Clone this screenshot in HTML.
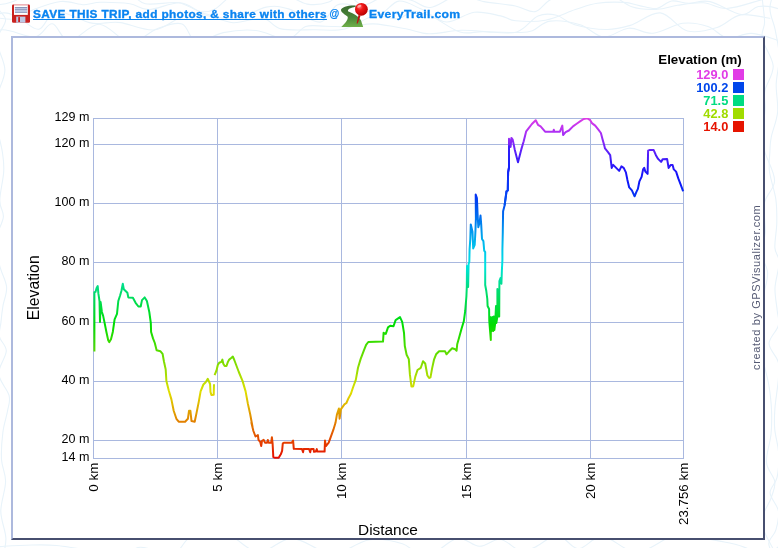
<!DOCTYPE html>
<html><head><meta charset="utf-8"><title>Elevation profile</title>
<style>
html,body{margin:0;padding:0;background:#fff;}
body{width:778px;height:548px;position:relative;overflow:hidden;font-family:"Liberation Sans",sans-serif;}
#bg{position:absolute;left:0;top:0;}
#hdr{position:absolute;left:0;top:0;width:778px;height:34px;will-change:transform;}
#hdr a,#hdr span{position:absolute;top:7px;font-weight:bold;font-size:10px;line-height:13px;color:#0a84f0;white-space:nowrap;display:inline-block;transform-origin:0 0;}
#hdr a{left:33.4px;top:7.5px;-webkit-text-stroke:0.3px #0a84f0;text-decoration:underline;text-underline-offset:0.6px;text-decoration-thickness:1px;text-decoration-skip-ink:none;letter-spacing:0.3px;transform:scaleX(1.184);}
#hdr #at{left:329.5px;top:6.6px;-webkit-text-stroke:0.2px #0a84f0;}
#hdr #et{left:368.7px;top:8px;-webkit-text-stroke:0.3px #0a84f0;font-size:11px !important;letter-spacing:0.3px;transform:scaleX(1.11);}
#box{position:absolute;left:11px;top:36px;width:750px;height:500px;background:#fff;border:2px solid;border-color:#adb9dd #474f6f #474f6f #adb9dd;}
#chart{position:absolute;left:0;top:0;will-change:transform;}
#chart text{font-family:"Liberation Sans",sans-serif;}
</style></head><body>
<svg id="bg" width="778" height="548" viewBox="0 0 778 548"><g fill="none" stroke="#e8f3fa" stroke-width="1.1"><path d="M-20.0 -2.9 C-17.2 -1.7 -8.4 3.5 -3.0 4.3 C2.4 5.1 6.3 4.0 12.5 1.8 C18.6 -0.4 26.2 -6.9 33.8 -8.7 C41.4 -10.6 50.1 -9.2 57.9 -9.2 C65.7 -9.1 74.2 -9.9 80.6 -8.5 C87.0 -7.0 88.7 -0.9 96.4 -0.7 C104.1 -0.5 118.8 -8.0 127.0 -7.3 C135.1 -6.5 136.8 2.1 145.4 3.8 C154.0 5.5 169.2 1.4 178.4 2.7 C187.5 4.0 194.2 10.4 200.3 11.5 C206.4 12.5 209.4 11.9 215.2 8.9 C221.0 5.8 229.0 -4.8 235.0 -6.8 C241.1 -8.8 243.6 -3.3 251.4 -3.2 C259.2 -3.1 272.4 -7.2 281.7 -6.0 C291.0 -4.8 299.5 2.7 307.3 4.1 C315.2 5.4 322.7 4.2 328.8 2.1 C334.9 -0.1 338.5 -9.2 344.0 -8.7 C349.6 -8.2 355.4 4.0 362.2 5.0 C368.9 5.9 376.7 -2.3 384.7 -3.1 C392.8 -3.9 402.8 -1.8 410.4 -0.0 C418.0 1.7 422.4 8.2 430.4 7.5 C438.4 6.7 449.5 -3.6 458.4 -4.6 C467.3 -5.6 474.4 -0.2 483.9 1.6 C493.4 3.3 506.8 4.4 515.4 6.0 C523.9 7.7 529.1 12.7 535.2 11.6 C541.2 10.4 543.9 2.2 551.5 -0.8 C559.1 -3.8 571.8 -5.3 580.7 -6.7 C589.5 -8.0 595.9 -11.4 604.4 -9.1 C613.0 -6.9 623.0 3.8 631.8 6.8 C640.6 9.9 649.6 9.5 657.3 9.3 C664.9 9.0 669.8 6.4 677.5 5.3 C685.2 4.2 695.3 2.2 703.4 2.8 C711.6 3.3 717.2 8.9 726.5 8.5 C735.9 8.1 749.4 3.3 759.4 0.4 C769.5 -2.4 782.2 -7.1 786.7 -8.7"/><path d="M-20.0 15.2 C-14.4 15.9 4.9 20.0 13.9 19.1 C22.8 18.1 25.7 12.4 33.6 9.5 C41.4 6.6 52.5 2.3 60.9 1.5 C69.4 0.7 77.6 4.6 84.2 4.7 C90.8 4.8 92.9 2.4 100.5 2.3 C108.1 2.2 121.8 2.6 129.9 3.8 C137.9 5.1 140.4 9.8 148.8 9.6 C157.2 9.4 171.2 2.2 180.2 2.8 C189.3 3.4 194.1 10.4 203.2 13.1 C212.3 15.8 224.4 20.0 234.9 19.0 C245.4 18.0 257.2 8.8 266.2 7.1 C275.1 5.4 279.5 6.4 288.5 8.9 C297.5 11.4 312.1 22.7 320.2 22.1 C328.3 21.4 331.2 7.5 337.2 4.9 C343.1 2.2 348.8 4.6 355.8 6.1 C362.9 7.6 372.4 14.8 379.5 14.0 C386.7 13.1 391.8 1.9 398.8 1.1 C405.7 0.3 413.2 5.6 421.2 9.1 C429.1 12.6 437.6 21.4 446.5 22.0 C455.3 22.5 465.3 13.4 474.3 12.3 C483.3 11.3 493.7 14.5 500.6 15.9 C507.6 17.3 508.3 20.1 515.7 20.8 C523.2 21.5 535.4 22.1 545.3 20.2 C555.3 18.4 566.6 12.5 575.3 9.6 C583.9 6.8 589.2 4.5 597.3 3.3 C605.4 2.1 616.9 2.0 624.0 2.4 C631.0 2.8 633.9 4.6 639.3 5.6 C644.7 6.6 651.2 9.2 656.5 8.5 C661.9 7.7 666.2 1.9 671.6 1.0 C676.9 0.1 682.2 3.1 688.6 3.2 C695.0 3.3 701.1 -0.3 709.9 1.6 C718.7 3.4 733.3 13.7 741.4 14.5 C749.5 15.3 752.0 7.5 758.3 6.5 C764.7 5.6 773.1 6.8 779.3 9.0 C785.5 11.2 793.0 17.9 795.8 19.7"/><path d="M-20.0 21.3 C-16.1 19.9 -2.9 13.3 3.7 12.9 C10.3 12.4 13.8 15.8 19.7 18.5 C25.6 21.3 32.9 30.4 39.0 29.2 C45.1 28.1 47.9 12.6 56.2 11.5 C64.6 10.4 80.9 20.7 89.3 22.6 C97.6 24.5 101.0 23.0 106.2 22.9 C111.4 22.9 112.7 21.4 120.7 22.6 C128.8 23.8 144.1 31.0 154.3 30.0 C164.6 29.0 174.0 19.3 182.2 16.7 C190.4 14.2 195.1 13.7 203.6 14.7 C212.0 15.7 223.2 22.1 233.0 22.7 C242.8 23.3 254.6 17.2 262.6 18.3 C270.6 19.3 272.4 26.9 281.0 28.9 C289.7 30.8 304.1 29.7 314.7 29.8 C325.4 29.8 335.0 31.3 344.9 29.0 C354.7 26.7 364.8 17.7 373.7 16.0 C382.5 14.3 391.5 19.6 398.0 18.8 C404.5 18.1 406.9 12.0 412.6 11.6 C418.3 11.3 424.3 13.3 432.2 16.7 C440.1 20.1 451.6 29.6 460.0 32.0 C468.5 34.5 473.5 31.6 483.0 31.6 C492.4 31.6 507.6 34.6 516.7 32.0 C525.9 29.4 531.4 18.6 538.0 15.9 C544.7 13.1 550.5 13.8 556.6 15.3 C562.7 16.8 566.3 22.4 574.7 24.7 C583.0 27.1 597.4 29.4 606.7 29.5 C615.9 29.6 621.3 28.1 630.3 25.4 C639.2 22.6 650.7 11.9 660.2 12.9 C669.8 13.8 678.0 28.6 687.5 31.0 C696.9 33.5 708.2 30.2 717.1 27.5 C726.0 24.8 731.8 16.5 740.7 14.9 C749.6 13.4 765.5 17.8 770.4 18.3"/><path d="M-20.0 42.4 C-16.3 40.3 -7.2 30.7 1.9 29.8 C11.1 28.9 26.5 38.0 34.9 36.9 C43.2 35.9 46.5 23.1 52.3 23.8 C58.0 24.5 61.4 40.8 69.3 40.9 C77.1 41.0 89.3 23.9 99.4 24.2 C109.5 24.5 120.3 41.8 129.9 42.6 C139.5 43.3 148.4 31.8 157.1 28.7 C165.8 25.6 175.5 21.6 182.1 23.9 C188.6 26.2 189.5 40.9 196.3 42.4 C203.2 43.8 213.4 34.6 223.3 32.6 C233.3 30.6 245.3 29.4 256.0 30.5 C266.7 31.6 279.2 39.8 287.4 39.2 C295.7 38.5 299.3 28.7 305.7 26.5 C312.0 24.4 317.9 26.3 325.5 26.3 C333.1 26.3 343.2 27.1 351.2 26.7 C359.3 26.3 364.5 23.5 373.6 23.9 C382.7 24.2 396.6 27.1 405.8 28.8 C415.1 30.4 419.8 33.6 429.0 33.8 C438.2 34.1 450.3 30.6 461.1 30.3 C471.8 30.0 483.9 31.7 493.4 32.0 C502.9 32.4 511.6 32.7 518.1 32.5 C524.6 32.3 527.1 32.6 532.4 30.7 C537.8 28.8 542.2 22.1 550.1 21.1 C558.0 20.1 571.2 22.1 580.1 24.8 C589.0 27.4 595.5 36.4 603.6 37.0 C611.7 37.5 620.4 28.8 628.7 28.2 C636.9 27.5 644.0 34.0 653.1 33.2 C662.1 32.4 673.6 24.5 682.7 23.3 C691.9 22.2 700.5 24.0 707.9 26.5 C715.4 28.9 720.2 36.8 727.5 38.0 C734.8 39.1 742.7 32.8 751.6 33.4 C760.5 33.9 776.0 39.8 780.8 41.1"/><path d="M-20.0 548.5 C-16.0 548.1 -4.5 546.9 4.1 546.3 C12.8 545.7 23.2 545.1 32.0 545.0 C40.7 544.8 47.0 544.6 56.6 545.5 C66.2 546.4 78.7 548.7 89.5 550.4 C100.2 552.1 112.5 556.2 121.0 555.7 C129.4 555.2 131.5 547.7 140.2 547.3 C148.9 546.9 164.8 555.1 173.0 553.5 C181.3 551.9 183.2 540.5 189.8 537.7 C196.4 534.9 205.7 536.8 212.6 536.6 C219.6 536.4 223.7 534.0 231.4 536.6 C239.1 539.2 248.9 551.9 258.8 552.2 C268.7 552.5 280.7 538.9 290.8 538.4 C300.8 537.9 311.6 546.9 319.1 549.5 C326.6 552.2 327.6 556.0 336.0 554.4 C344.3 552.8 358.2 541.6 369.3 539.8 C380.4 538.1 392.9 540.9 402.4 543.8 C411.8 546.6 417.0 557.6 426.1 556.8 C435.2 555.9 447.9 540.3 456.8 538.6 C465.6 536.8 472.1 546.2 479.4 546.3 C486.6 546.5 493.3 538.5 500.2 539.3 C507.0 540.1 514.7 549.6 520.5 550.9 C526.3 552.2 528.7 549.8 534.9 547.2 C541.1 544.6 550.5 535.1 557.7 535.4 C565.0 535.7 570.9 548.6 578.4 548.7 C585.8 548.9 593.0 535.8 602.6 536.4 C612.3 537.0 625.1 552.2 636.3 552.3 C647.5 552.5 661.0 540.1 669.7 537.3 C678.5 534.6 680.9 535.3 689.1 535.9 C697.2 536.5 710.9 539.5 718.6 540.9 C726.3 542.4 727.1 542.3 735.2 544.3 C743.4 546.3 758.9 554.0 767.5 553.0 C776.0 552.0 783.4 540.7 786.6 538.3"/><path d="M4.0 -20.0 C2.9 -15.8 -3.0 -1.5 -2.7 5.2 C-2.5 11.9 5.7 14.2 5.6 20.1 C5.6 26.1 -2.9 32.6 -3.0 40.9 C-3.1 49.2 4.9 60.6 4.9 69.9 C4.9 79.3 -1.5 87.7 -2.8 96.8 C-4.2 105.9 -3.9 115.2 -3.1 124.5 C-2.2 133.7 1.2 144.4 2.4 152.3 C3.5 160.1 4.2 163.7 3.7 171.7 C3.3 179.7 -0.2 193.0 -0.2 200.5 C-0.3 208.0 3.7 210.9 3.4 216.6 C3.0 222.2 -1.4 228.7 -2.5 234.4 C-3.6 240.1 -3.8 245.4 -3.3 251.0 C-2.8 256.6 -1.3 262.2 0.4 268.2 C2.0 274.2 6.2 280.8 6.6 287.1 C7.1 293.4 4.0 299.8 3.0 305.7 C2.0 311.7 1.4 317.4 0.9 322.6 C0.3 327.8 -1.4 332.1 -0.5 336.9 C0.4 341.6 6.4 344.9 6.3 351.1 C6.1 357.3 -1.8 366.5 -1.3 373.9 C-0.9 381.3 7.6 389.3 9.1 395.5 C10.6 401.8 8.5 405.1 7.5 411.2 C6.4 417.3 3.9 424.1 2.9 432.2 C1.9 440.2 1.1 451.3 1.5 459.5 C2.0 467.8 5.7 473.0 5.6 481.6 C5.5 490.3 0.8 501.8 0.8 511.3 C0.8 520.8 5.7 530.1 5.9 538.6 C6.0 547.2 2.4 558.8 1.7 562.8"/><path d="M761.8 -20.0 C761.8 -17.3 761.5 -10.9 762.0 -3.9 C762.5 3.1 764.5 14.9 764.6 21.9 C764.6 29.0 760.7 31.2 762.2 38.5 C763.6 45.9 772.7 57.3 773.2 66.0 C773.6 74.7 766.3 83.6 764.9 90.7 C763.6 97.8 765.4 102.1 765.1 108.6 C764.8 115.1 763.3 122.9 763.2 130.0 C763.1 137.0 762.8 142.7 764.7 151.1 C766.6 159.5 774.7 171.8 774.6 180.5 C774.6 189.2 766.0 194.5 764.4 203.2 C762.9 211.9 765.9 224.5 765.3 232.7 C764.8 240.9 760.6 245.8 761.0 252.4 C761.4 259.0 767.2 265.5 767.6 272.5 C768.1 279.5 764.9 287.2 763.8 294.5 C762.7 301.9 761.3 309.9 761.1 316.6 C760.8 323.3 762.2 328.4 762.3 334.8 C762.3 341.3 761.1 349.4 761.6 355.2 C762.1 361.0 764.0 364.2 765.3 369.6 C766.5 374.9 768.2 380.6 769.2 387.3 C770.2 394.0 771.2 402.0 771.5 409.8 C771.8 417.6 771.9 425.5 771.0 434.3 C770.2 443.1 765.8 454.5 766.5 462.4 C767.1 470.3 774.0 475.7 774.8 481.6 C775.6 487.5 773.3 491.2 771.1 498.0 C768.9 504.8 761.2 513.7 761.6 522.3 C762.0 530.9 771.5 545.1 773.5 549.6"/><path d="M778.3 -20.0 C776.9 -15.5 770.5 -1.2 770.0 7.0 C769.4 15.2 773.5 21.1 775.1 29.4 C776.6 37.7 779.1 47.6 779.3 56.7 C779.5 65.8 776.5 74.7 776.2 84.0 C775.9 93.2 778.4 103.3 777.6 112.2 C776.7 121.1 772.5 130.7 771.2 137.3 C769.9 143.9 770.2 146.1 769.9 151.8 C769.6 157.5 768.5 163.7 769.5 171.6 C770.5 179.5 774.6 190.4 775.8 199.0 C777.0 207.5 776.9 214.9 776.8 223.0 C776.6 231.2 774.5 241.4 774.9 247.9 C775.3 254.4 779.1 255.3 779.2 262.0 C779.2 268.6 775.4 279.8 775.0 287.9 C774.7 296.0 776.7 304.2 777.2 310.5 C777.8 316.8 779.7 320.0 778.3 325.6 C777.0 331.1 769.1 337.5 769.0 343.6 C769.0 349.6 776.7 355.9 778.2 361.8 C779.8 367.8 778.9 371.3 778.4 379.1 C777.8 386.9 775.5 400.4 774.9 408.7 C774.3 417.0 774.1 421.3 774.7 428.9 C775.3 436.4 778.4 445.7 778.7 453.8 C779.1 461.9 778.4 471.2 777.0 477.7 C775.6 484.2 769.8 487.4 770.1 492.9 C770.3 498.5 777.4 504.8 778.4 511.0 C779.4 517.1 777.5 524.3 775.9 529.8 C774.4 535.4 768.6 538.6 768.8 544.0 C769.1 549.5 776.0 559.3 777.4 562.3"/></g></svg>
<div id="box"></div>
<div id="hdr">
<svg style="position:absolute;left:12px;top:4px" width="18" height="19" viewBox="0 0 18 19">
<rect x="0" y="0.6" width="18.1" height="18.1" rx="1.3" fill="#c9211e"/>
<rect x="2" y="0.3" width="14" height="1.3" fill="#f3c3cc"/>
<rect x="2" y="1.4" width="13.8" height="9.5" fill="#fff"/>
<rect x="2.9" y="3" width="12.3" height="5.8" fill="#bcc6e2"/>
<rect x="2.9" y="3" width="12.3" height="0.9" fill="#8792b4"/>
<rect x="2.9" y="5.1" width="12.3" height="0.8" fill="#8e99ba"/>
<rect x="2.9" y="8" width="12.3" height="0.8" fill="#8e99ba"/>
<rect x="4.2" y="12.6" width="9.2" height="6.1" fill="#bec8e4"/>
<rect x="6.2" y="13.1" width="1.8" height="4.9" fill="#c9211e"/>
</svg>
<a>SAVE THIS TRIP, add photos, &amp; share with others</a>
<span id="at">@</span>
<svg style="position:absolute;left:339px;top:2px" width="32" height="27" viewBox="0 0 32 27">
<defs><linearGradient id="gg" x1="0" y1="0" x2="0" y2="1"><stop offset="0" stop-color="#3a6a30"/><stop offset="0.55" stop-color="#4a8638"/><stop offset="1" stop-color="#6fb04a"/></linearGradient>
<radialGradient id="rg" cx="0.38" cy="0.32" r="0.7"><stop offset="0" stop-color="#ff7070"/><stop offset="0.35" stop-color="#f01818"/><stop offset="1" stop-color="#b80000"/></radialGradient></defs>
<path d="M16.5 3.6 C9 3.2 2.5 5.5 2 7.8 C1.8 10.5 6 12.5 8.5 14.5 C9.5 16 8 18.5 6.5 20.5 L2.3 25 L24.2 25 L22 18.5 C20 14.5 14.5 11.5 10 9.8 C8 8.8 9 7 12 6 C14 5.2 16 4.8 17 4.4 Z" fill="url(#gg)"/>
<path d="M19.5 13 L17.6 21.5 L18.6 21.5 L21.6 13.5 Z" fill="#c01010"/>
<circle cx="22.4" cy="7.3" r="6.4" fill="url(#rg)"/>
<ellipse cx="20.3" cy="4.2" rx="2.2" ry="1.2" fill="#ffc0c0" opacity="0.8" transform="rotate(-25 20.3 4.2)"/>
</svg>
<span id="et">EveryTrail.com</span>
</div>
<svg id="chart" width="778" height="548" viewBox="0 0 778 548">
<defs><linearGradient id="eg" gradientUnits="userSpaceOnUse" x1="0" y1="117.59" x2="0" y2="458.27">
<stop offset="0.0000" stop-color="#df3be5"/><stop offset="0.0217" stop-color="#c836ed"/><stop offset="0.0435" stop-color="#ac30f4"/><stop offset="0.0652" stop-color="#8e29f7"/><stop offset="0.0870" stop-color="#6e23f9"/><stop offset="0.1087" stop-color="#501ef9"/><stop offset="0.1304" stop-color="#391bf9"/><stop offset="0.1522" stop-color="#2417f9"/><stop offset="0.1739" stop-color="#1212f9"/><stop offset="0.1957" stop-color="#0d1af9"/><stop offset="0.2174" stop-color="#082bf6"/><stop offset="0.2391" stop-color="#023df1"/><stop offset="0.2609" stop-color="#0051ef"/><stop offset="0.2826" stop-color="#0066ef"/><stop offset="0.3043" stop-color="#007bef"/><stop offset="0.3261" stop-color="#0090ef"/><stop offset="0.3478" stop-color="#00a5ee"/><stop offset="0.3696" stop-color="#00b9ed"/><stop offset="0.3913" stop-color="#00c8ea"/><stop offset="0.4130" stop-color="#00d6e7"/><stop offset="0.4348" stop-color="#00e4e0"/><stop offset="0.4565" stop-color="#00e1c1"/><stop offset="0.4783" stop-color="#00df9f"/><stop offset="0.5000" stop-color="#00dd7d"/><stop offset="0.5217" stop-color="#00dd64"/><stop offset="0.5435" stop-color="#00dd4b"/><stop offset="0.5652" stop-color="#00dd32"/><stop offset="0.5870" stop-color="#00dd19"/><stop offset="0.6087" stop-color="#00dd00"/><stop offset="0.6304" stop-color="#19dd00"/><stop offset="0.6522" stop-color="#32dd00"/><stop offset="0.6739" stop-color="#4bdd00"/><stop offset="0.6957" stop-color="#64dd00"/><stop offset="0.7174" stop-color="#7ddd00"/><stop offset="0.7391" stop-color="#96dd00"/><stop offset="0.7609" stop-color="#afde00"/><stop offset="0.7826" stop-color="#c7de00"/><stop offset="0.8043" stop-color="#dfdf00"/><stop offset="0.8261" stop-color="#e0c800"/><stop offset="0.8478" stop-color="#e0b100"/><stop offset="0.8696" stop-color="#e19a00"/><stop offset="0.8913" stop-color="#e28200"/><stop offset="0.9130" stop-color="#e26b00"/><stop offset="0.9348" stop-color="#e35300"/><stop offset="0.9565" stop-color="#e43b00"/><stop offset="0.9783" stop-color="#e42300"/><stop offset="1.0000" stop-color="#e50b00"/>
</linearGradient><clipPath id="cp"><rect x="93" y="118" width="591.5" height="341.5"/></clipPath><linearGradient id="cg" gradientUnits="userSpaceOnUse" x1="0" y1="145" x2="0" y2="206"><stop offset="0" stop-color="#3a1cfa"/><stop offset="0.35" stop-color="#1420fa"/><stop offset="1" stop-color="#0052f0"/></linearGradient></defs>
<g stroke="#a9b8df" stroke-width="1" shape-rendering="crispEdges">
<line x1="93.0" y1="118.5" x2="684.0" y2="118.5"/><line x1="93.0" y1="144.5" x2="684.0" y2="144.5"/><line x1="93.0" y1="203.5" x2="684.0" y2="203.5"/><line x1="93.0" y1="262.5" x2="684.0" y2="262.5"/><line x1="93.0" y1="322.5" x2="684.0" y2="322.5"/><line x1="93.0" y1="381.5" x2="684.0" y2="381.5"/><line x1="93.0" y1="440.5" x2="684.0" y2="440.5"/><line x1="93.0" y1="458.5" x2="684.0" y2="458.5"/><line x1="93.5" y1="118.0" x2="93.5" y2="459.0"/><line x1="217.5" y1="118.0" x2="217.5" y2="459.0"/><line x1="341.5" y1="118.0" x2="341.5" y2="459.0"/><line x1="466.5" y1="118.0" x2="466.5" y2="459.0"/><line x1="590.5" y1="118.0" x2="590.5" y2="459.0"/><line x1="683.5" y1="118.0" x2="683.5" y2="459.0"/>
</g>
<g font-size="12.2" fill="#000">
<text transform="translate(89.4,120.7) scale(1.03,1)" text-anchor="end">129 m</text><text transform="translate(89.4,146.7) scale(1.03,1)" text-anchor="end">120 m</text><text transform="translate(89.4,205.7) scale(1.03,1)" text-anchor="end">100 m</text><text transform="translate(89.4,264.7) scale(1.03,1)" text-anchor="end">80 m</text><text transform="translate(89.4,324.7) scale(1.03,1)" text-anchor="end">60 m</text><text transform="translate(89.4,383.7) scale(1.03,1)" text-anchor="end">40 m</text><text transform="translate(89.4,442.7) scale(1.03,1)" text-anchor="end">20 m</text><text transform="translate(89.4,460.7) scale(1.03,1)" text-anchor="end">14 m</text>
<text transform="translate(98.1,462.7) rotate(-90) scale(1.095,1)" text-anchor="end">0 km</text><text transform="translate(222.1,462.7) rotate(-90) scale(1.095,1)" text-anchor="end">5 km</text><text transform="translate(346.1,462.7) rotate(-90) scale(1.095,1)" text-anchor="end">10 km</text><text transform="translate(471.1,462.7) rotate(-90) scale(1.095,1)" text-anchor="end">15 km</text><text transform="translate(595.1,462.7) rotate(-90) scale(1.095,1)" text-anchor="end">20 km</text><text transform="translate(688.1,462.7) rotate(-90) scale(1.095,1)" text-anchor="end">23.756 km</text>
</g>
<text x="388" y="535.4" font-size="15.4" text-anchor="middle" fill="#000">Distance</text>
<text transform="translate(39.4,287.8) rotate(-90)" font-size="15.8" text-anchor="middle" fill="#000">Elevation</text>
<text transform="translate(760,287.3) rotate(-90)" font-size="11" letter-spacing="0.6" text-anchor="middle" fill="#555a74">created by GPSVisualizer.com</text>
<text x="741.8" y="64" font-size="13.3" font-weight="bold" text-anchor="end" fill="#000">Elevation (m)</text>
<g font-size="12" font-weight="bold">
<rect x="733" y="69" width="11" height="11" fill="#e13ce6"/><text transform="translate(728.3,79.0) scale(1.07,1)" text-anchor="end" fill="#e13ce6">129.0</text><rect x="733" y="82" width="11" height="11" fill="#0046eb"/><text transform="translate(728.3,92.0) scale(1.07,1)" text-anchor="end" fill="#0046eb">100.2</text><rect x="733" y="95" width="11" height="11" fill="#00dc82"/><text transform="translate(728.3,105.0) scale(1.07,1)" text-anchor="end" fill="#00dc82">71.5</text><rect x="733" y="108" width="11" height="11" fill="#a0dc00"/><text transform="translate(728.3,118.0) scale(1.07,1)" text-anchor="end" fill="#a0dc00">42.8</text><rect x="733" y="121" width="11" height="11" fill="#e61400"/><text transform="translate(728.3,131.0) scale(1.07,1)" text-anchor="end" fill="#e61400">14.0</text>
</g>
<g clip-path="url(#cp)" fill="none" stroke="url(#eg)" stroke-width="2" stroke-linejoin="round" stroke-linecap="butt">
<path d="M94.4 351.6 L94.4 292.3 L95.5 291.9 L96.6 287.9 L97.7 286.1 L98.4 293.7 L99.5 301.0 L100.0 322.0 L100.6 301.9 L101.9 312.0 L103.1 315.6 L104.6 322.9 L106.4 332.0 L108.2 340.3 L109.2 342.1 L111.0 339.3 L112.8 332.0 L114.6 319.3 L117.0 313.8 L118.3 301.0 L120.1 295.5 L121.4 291.0 L122.8 283.7 L123.8 289.2 L125.6 291.0 L127.4 292.8 L128.3 297.4 L132.9 297.7 L135.6 302.8 L138.4 306.5 L140.7 306.5 L142.0 300.1 L144.7 297.4 L146.9 301.0 L149.3 312.0 L150.8 322.9 L151.1 332.0 L153.0 338.4 L154.8 343.0 L156.6 350.3 L160.3 351.2 L162.6 353.9 L163.9 361.2 L165.7 369.5 L166.4 381.1 L168.7 390.2 L171.4 399.4 L173.7 410.8 L176.4 418.8 L178.7 421.7 L185.1 421.7 L187.9 418.8 L189.0 410.8 L190.4 410.8 L191.5 421.1 L194.7 421.7 L196.5 413.1 L198.8 401.6 L200.6 391.4 L203.4 384.5 L205.7 382.2 L207.8 378.8 L209.2 382.0 L210.1 384.2 L210.5 392.0 L211.4 394.9 L213.7 394.7 L214.0 384.2"/>
<path d="M214.6 375.1 L216.5 370.5 L217.8 365.1 L219.2 362.8 L221.5 361.9 L222.4 359.6 L223.3 363.7 L224.7 366.0 L226.5 366.0 L227.9 361.9 L229.2 359.6 L231.5 357.8 L232.9 356.6 L234.3 360.0 L238.8 372.0 L242.6 381.1 L245.6 391.4 L247.9 403.9 L250.2 414.2 L252.5 426.8 L251.4 422.8 L253.4 431.0 L255.5 436.5 L257.9 435.1 L258.5 439.9 L260.3 442.0 L261.2 446.1 L262.0 440.9 L263.7 439.9 L265.0 442.7 L267.1 442.7 L267.8 439.9 L268.7 442.7 L271.2 442.7 L271.9 437.2 L272.6 443.4 L273.3 457.0 L274.6 457.7 L278.7 457.7 L280.8 454.3 L282.1 450.9 L282.8 443.4 L284.2 442.7 L291.7 442.7 L293.1 440.6 L293.8 448.8 L302.0 449.1 L303.1 452.2 L303.6 449.1 L309.1 449.1 L310.2 452.2 L310.9 449.1 L313.6 449.1 L314.0 451.8 L315.7 451.6 L316.8 449.1 L317.3 451.6 L324.6 451.6 L325.0 440.6 L325.9 446.1 L328.7 442.7 L330.7 437.2 L333.4 429.7 L335.5 422.8 L336.9 414.6 L338.9 408.5 L339.6 418.7 L341.0 409.2 L344.4 404.4 L346.4 403.0 L348.5 398.2 L350.8 394.1 L353.0 387.5 L355.8 379.9 L358.0 367.8 L360.6 359.1 L363.9 350.3 L366.1 344.9 L368.3 342.0 L383.0 341.6 L383.6 332.8 L385.8 333.9 L388.0 327.4 L390.2 325.8 L393.5 326.3 L395.6 320.1 L400.0 317.1 L402.2 321.9 L404.0 332.8 L404.8 346.0 L406.6 354.7 L408.8 359.1 L409.9 374.4 L411.4 386.4 L413.2 386.4 L415.3 376.6 L417.5 370.0 L420.8 367.8 L423.0 361.3 L425.2 363.5 L427.4 375.5 L429.1 378.0 L430.5 377.4 L432.1 368.4 L434.1 359.3 L436.1 354.3 L439.1 351.3 L445.1 351.3 L446.5 354.3 L449.2 351.3 L452.2 348.3 L455.2 349.3 L456.6 350.7 L457.2 344.3 L459.2 337.2 L461.6 328.5 L463.8 321.3 L465.2 311.0 L466.4 296.5 L466.8 287.0 L467.0 266.0 L468.1 287.0 L468.6 264.0 L469.3 262.0 L469.6 249.2 L470.3 239.0 L470.8 224.4 L472.5 231.7 L473.2 248.4 L474.7 244.8 L475.4 231.7 L475.9 218.5 L475.7 194.5 L476.9 198.1 L477.6 214.2 L478.3 227.3 L479.5 222.9 L480.5 215.6 L481.2 224.4 L482.0 239.0 L483.4 241.1 L484.2 250.6 L485.2 252.1 L485.2 264.9 L485.2 285.0 L486.3 291.0 L487.3 299.0 L487.6 306.0 L489.1 309.0 L489.3 321.0 L490.0 330.0 L490.8 340.0 L490.8 331.0 L490.2 317.0 L491.6 331.0 L492.2 317.0 L493.2 331.0 L493.8 316.5 L494.4 330.0 L495.2 323.0 L496.0 306.0 L496.3 323.0 L497.4 316.6 L497.4 289.0 L498.6 300.0 L499.2 316.6 L499.4 281.0 L500.5 278.0 L501.4 283.7 L501.9 270.0 L502.4 260.0 L502.4 249.9 L502.8 231.7 L503.1 211.2 L504.6 205.4 L506.5 191.3 L507.8 190.5 L508.1 172.4 L509.0 167.5 L509.0 138.7 L510.6 146.9 L511.4 137.9 L512.7 139.6 L514.7 149.4 L517.2 159.3 L518.0 162.2 L519.6 156.0 L521.3 149.4 L523.7 141.2 L526.2 131.3 L528.7 128.1 L531.9 124.0 L535.7 120.2 L538.0 124.8 L540.6 126.4 L543.4 129.7 L545.1 131.7 L553.3 131.7 L553.8 129.7 L554.4 131.7 L559.9 131.7 L562.3 125.6 L563.1 135.0 L565.6 132.2 L568.9 130.5 L573.0 126.4 L576.3 124.0 L580.4 121.2 L583.7 119.0 L587.0 118.2 L590.2 120.2 L591.9 123.1 L595.2 125.6 L598.4 129.7 L600.9 133.0 L602.6 139.6 L604.2 145.3 L605.0 148.4 L608.0 152.2 L610.2 155.2 L611.7 167.9 L613.2 164.9 L616.2 167.9 L619.2 170.9 L621.4 166.4 L623.7 167.9 L625.9 172.4 L627.4 179.9 L629.2 187.4 L631.9 190.4 L634.6 196.3 L636.4 191.9 L637.9 188.9 L639.4 181.4 L641.6 176.9 L643.1 169.4 L644.2 167.9 L645.4 171.6 L647.6 173.9 L648.1 150.7 L649.9 149.9 L653.6 149.9 L655.9 155.2 L658.1 158.9 L661.1 161.9 L662.6 159.2 L667.1 158.9 L668.6 167.9 L670.8 164.9 L672.6 164.9 L673.8 169.4 L676.1 171.6 L678.3 178.4 L680.6 184.4 L682.8 190.4 L683.6 191.1"/>
<path d="M504.6 205.4 L506.5 191.3 L507.8 190.5 L508.1 172.4 L509 167.5 L509 145.5" stroke="url(#cg)"/>
</g>
</svg>
</body></html>
